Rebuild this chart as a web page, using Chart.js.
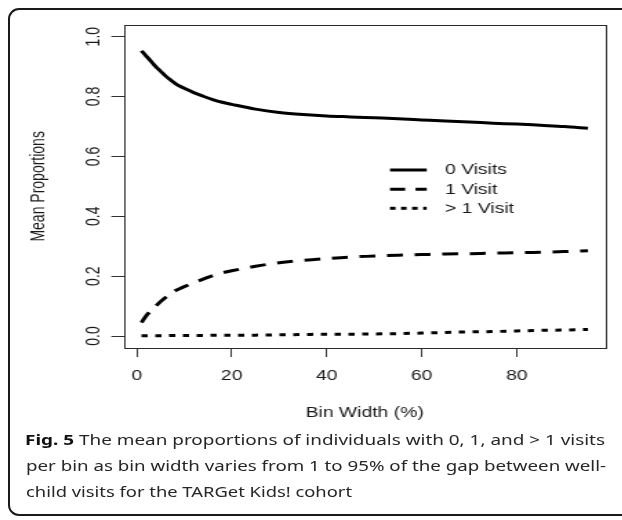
<!DOCTYPE html>
<html>
<head>
<meta charset="utf-8">
<script src="https://cdn.jsdelivr.net/npm/chart.js@4.4.1/dist/chart.umd.min.js"></script>
<style>
html,body{margin:0;padding:0;background:#fff;width:622px;height:520px;overflow:hidden;}
#frame{position:absolute;left:8px;top:8px;width:720px;height:508px;border:2px solid #1a1a1a;border-radius:11px;box-sizing:border-box;}
#wrap{position:absolute;left:0;top:0;width:451px;height:432px;transform:scaleX(1.38);transform-origin:0 0;}
#caption{position:absolute;left:0;top:0;font-family:'Noto Sans','Open Sans',sans-serif;font-size:15px;line-height:20px;color:#262626;}
.cl{position:absolute;white-space:nowrap;transform-origin:0 0;}
.cl b{color:#111;}
</style>
</head>
<body>
<div id="frame"></div>
<div id="wrap"><canvas id="c" width="451" height="432"></canvas></div>
<div id="caption">
  <div class="cl" id="l1" data-w="580" style="left:25px;top:429px;"><b>Fig. 5</b> The mean proportions of individuals with 0, 1, and &gt; 1 visits</div>
  <div class="cl" id="l2" data-w="580" style="left:26px;top:455px;">per bin as bin width varies from 1 to 95% of the gap between well-</div>
  <div class="cl" id="l3" data-w="326" style="left:26px;top:481px;">child visits for the TARGet Kids! cohort</div>
</div>
<script>
// ---- data ----
const binWidth    = [1,2,3,4,5,6,7,8,9,10,12,14,16,18,20,25,30,35,40,45,50,55,60,65,70,75,80,85,90,95];
const zeroVisits  = [0.953,0.935,0.918,0.900,0.885,0.870,0.857,0.845,0.835,0.828,0.813,0.801,0.790,0.781,0.774,0.758,0.747,0.740,0.735,0.732,0.729,0.726,0.722,0.718,0.715,0.711,0.708,0.704,0.700,0.694];
const oneVisit    = [0.045,0.068,0.085,0.100,0.115,0.128,0.140,0.150,0.158,0.165,0.178,0.190,0.202,0.211,0.218,0.233,0.245,0.253,0.259,0.264,0.267,0.270,0.272,0.274,0.275,0.277,0.278,0.280,0.282,0.285];
const multiVisits = [0.001,0.001,0.001,0.001,0.001,0.001,0.002,0.002,0.002,0.002,0.002,0.002,0.003,0.003,0.003,0.003,0.004,0.005,0.006,0.006,0.007,0.008,0.010,0.012,0.014,0.015,0.017,0.019,0.020,0.022];
const seriesNames = ['0 Visits','1 Visit','> 1 Visit'];
const xTickValues = [0,20,40,60,80];
const xTickLabels = ['0','20','40','60','80'];
const yTickValues = [0,0.2,0.4,0.6,0.8,1.0];
const yTickLabels = ['0.0','0.2','0.4','0.6','0.8','1.0'];
const xTitle = 'Bin Width (%)';
const yTitle = 'Mean Proportions';

const toPts = ys => binWidth.map((x,i)=>({x:x,y:ys[i]}));
const FONT = {family:"'Liberation Sans', Arial, sans-serif", size:14};
const TXT = '#1a1a1a';

const boxPlugin = {
  id:'rbox',
  beforeDatasetsDraw(chart){
    const a = chart.chartArea, ctx = chart.ctx;
    ctx.save();
    ctx.strokeStyle = '#2a2a2a'; ctx.lineWidth = 1;
    ctx.strokeRect(Math.round(a.left)+0.5, Math.round(a.top)+0.5, Math.round(a.right-a.left), Math.round(a.bottom-a.top));
    ctx.restore();
  }
};
const legendPlugin = {
  id:'rlegend',
  afterDraw(chart){
    const ctx = chart.ctx;
    const x1 = 282.6, x2 = 309.2, tx = 322.5, rows = [170, 189.3, 208.3];
    ctx.save();
    chart.data.datasets.forEach((ds,i)=>{
      ctx.strokeStyle = ds.borderColor; ctx.lineWidth = ds.borderWidth;
      ctx.setLineDash(ds.legendDash || []);
      ctx.beginPath(); ctx.moveTo(x1, rows[i]); ctx.lineTo(x2, rows[i]); ctx.stroke();
      ctx.setLineDash([]);
      ctx.fillStyle = TXT; ctx.font = FONT.size + 'px ' + FONT.family;
      ctx.textBaseline = 'middle'; ctx.textAlign = 'left';
      ctx.fillText(ds.label, tx, rows[i] + 0.5);
    });
    ctx.restore();
  }
};

new Chart(document.getElementById('c'), {
  type:'line',
  data:{datasets:[
    {label:seriesNames[0], data:toPts(zeroVisits), borderColor:'#000', borderWidth:3, borderDash:[], legendDash:[], pointRadius:0, cubicInterpolationMode:'monotone', fill:false},
    {label:seriesNames[1], data:toPts(oneVisit), borderColor:'#000', borderWidth:3, borderDash:[11.5,8.5], legendDash:[11,7.5], pointRadius:0, cubicInterpolationMode:'monotone', fill:false},
    {label:seriesNames[2], data:toPts(multiVisits), borderColor:'#000', borderWidth:3, borderDash:[4.5,5.5], legendDash:[4,4], pointRadius:0, cubicInterpolationMode:'monotone', fill:false}
  ]},
  options:{
    responsive:false, animation:false, devicePixelRatio:1,
    layout:{padding:{left:0,right:12,top:24.7,bottom:0}},
    plugins:{legend:{display:false}, tooltip:{enabled:false}},
    scales:{
      x:{type:'linear', min:-2.76, max:98.76,
        afterBuildTicks:s=>{s.ticks = xTickValues.map(v=>({value:v}));},
        afterFit:s=>{s.height = 84;},
        grid:{display:true, drawOnChartArea:false, drawTicks:true, tickLength:9, color:'#333', lineWidth:1},
        border:{display:false},
        ticks:{autoSkip:false, minRotation:0, maxRotation:0, padding:10.3, color:TXT, font:FONT, callback:(v,i)=>xTickLabels[i]},
        title:{display:true, text:xTitle, color:TXT, font:FONT, padding:{top:0,bottom:10.3}}
      },
      y:{type:'linear', min:-0.04, max:1.04,
        afterBuildTicks:s=>{s.ticks = yTickValues.map(v=>({value:v}));},
        afterFit:s=>{s.width = 89.57;},
        grid:{display:true, drawOnChartArea:false, drawTicks:true, tickLength:8.9, color:'#333', lineWidth:1},
        border:{display:false},
        ticks:{autoSkip:false, minRotation:90, maxRotation:90, crossAlign:'center', padding:2.84, color:TXT, font:FONT, callback:(v,i)=>yTickLabels[i]},
        title:{display:true, text:yTitle, color:TXT, font:FONT, padding:{top:20.1,bottom:0}}
      }
    }
  },
  plugins:[boxPlugin, legendPlugin]
});

// fit caption lines to the reference widths
document.querySelectorAll('.cl').forEach(el=>{
  const w = el.getBoundingClientRect().width;
  const t = parseFloat(el.dataset.w);
  if (w > 0) el.style.transform = 'scaleX(' + (t / w).toFixed(4) + ')';
});
</script>
</body>
</html>
